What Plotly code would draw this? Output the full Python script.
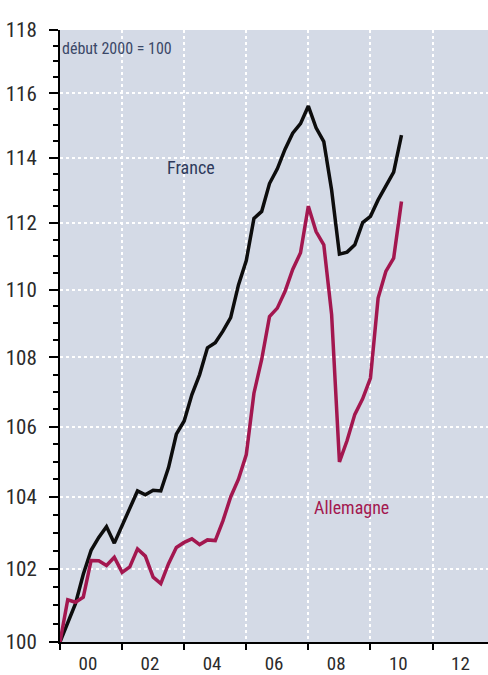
import math
import pandas as pd
import plotly.graph_objects as go

# Trimestres, début 2000 -> début 2011
quarters = pd.date_range("2000-01-01", periods=45, freq="QS")

# Indice début 2000 = 100
france = [100.0, 100.52, 101.04, 101.85, 102.51, 102.87, 103.17, 102.71, 103.2, 103.67,
          104.17, 104.06, 104.19, 104.17, 104.83, 105.78, 106.16, 106.92, 107.5, 108.28,
          108.43, 108.77, 109.17, 110.14, 110.87, 112.14, 112.35, 113.2, 113.65, 114.25,
          114.75, 115.05, 115.6, 114.92, 114.49, 113.0, 111.06, 111.12, 111.34, 112.01,
          112.2, 112.7, 113.1, 113.55, 114.69]
allemagne = [100.0, 101.15, 101.08, 101.22, 102.23, 102.22, 102.09, 102.32, 101.9, 102.05,
             102.55, 102.35, 101.77, 101.59, 102.14, 102.59, 102.73, 102.83, 102.67, 102.8,
             102.78, 103.33, 104.0, 104.5, 105.2, 106.96, 107.94, 109.2, 109.45, 109.94,
             110.6, 111.1, 112.51, 111.74, 111.34, 109.26, 104.99, 105.6, 106.35, 106.8,
             107.4, 109.75, 110.54, 110.94, 112.65]

y_ticks = [100, 102, 104, 106, 108, 110, 112, 114, 116, 118]
x_years = [2000, 2002, 2004, 2006, 2008, 2010, 2012]
x_labels = ["00", "02", "04", "06", "08", "10", "12"]

FONT = "Liberation Sans Narrow, Roboto Condensed, Roboto, sans-serif"

fig = go.Figure()
fig.add_trace(go.Scatter(x=quarters, y=france, mode="lines", name="France",
                         line=dict(color="#0d0d0d", width=3.5)))
fig.add_trace(go.Scatter(x=quarters, y=allemagne, mode="lines", name="Allemagne",
                         line=dict(color="#a3174f", width=3.5)))

# ligne blanche pleine à 110
fig.add_shape(type="line", xref="paper", x0=0, x1=1, yref="y",
              y0=math.log10(110), y1=math.log10(110),
              line=dict(color="white", width=2), layer="between")

fig.add_annotation(text="début 2000 = 100", xref="paper", x=0.0, xanchor="left",
                   yref="y", y=math.log10(117.4), showarrow=False,
                   font=dict(family=FONT, size=16, color="#3b4868"))
fig.add_annotation(text="France", xref="x", x="2004-03-20", yref="y", y=math.log10(113.68),
                   showarrow=False, font=dict(family=FONT, size=18, color="#2e3a5c"))
fig.add_annotation(text="Allemagne", xref="x", x="2009-05-25", yref="y", y=math.log10(103.7),
                   showarrow=False, font=dict(family=FONT, size=18, color="#a3174f"))

# étiquettes centrées entre les graduations (tous les deux ans)
fig.update_xaxes(
    type="date", range=["2000-01-01", "2013-10-15"],
    tickmode="array", tickvals=[f"{y}-11-24" for y in x_years], ticktext=x_labels,
    ticks="", showgrid=False,
    minor=dict(tickmode="linear", tick0="2000-01-01", dtick="M24", ticks="outside",
               ticklen=6, tickwidth=2, tickcolor="black",
               showgrid=True, gridcolor="white", gridwidth=1.5, griddash="dot"),
    showline=True, linecolor="black", linewidth=2,
    tickfont=dict(family=FONT, size=19, color="#2b2b2b"),
    ticklabelstandoff=3,
    zeroline=False, automargin=False,
)
fig.update_yaxes(
    type="log", range=[2, math.log10(118)],
    tickmode="array", tickvals=y_ticks, ticktext=[str(v) for v in y_ticks],
    ticks="outside", ticklen=9, tickwidth=2, tickcolor="black",
    minor=dict(tickvals=[100 + 0.5 * i for i in range(37)], ticks="outside",
               ticklen=5, tickwidth=1.5, tickcolor="black", showgrid=False),
    showline=True, linecolor="black", linewidth=2,
    showgrid=True, gridcolor="white", gridwidth=1.5, griddash="dot",
    tickfont=dict(family=FONT, size=21, color="#2b2b2b"),
    ticklabelstandoff=8,
    zeroline=False, automargin=False,
)

fig.update_layout(
    width=488, height=675,
    margin=dict(l=60, r=0, t=30, b=33),
    plot_bgcolor="#d4dae6", paper_bgcolor="white",
    showlegend=False,
)

# pas de marge de page autour du graphique
fig.write_html("out.html", config={"displayModeBar": False},
               post_script="document.body.style.margin='0';")
